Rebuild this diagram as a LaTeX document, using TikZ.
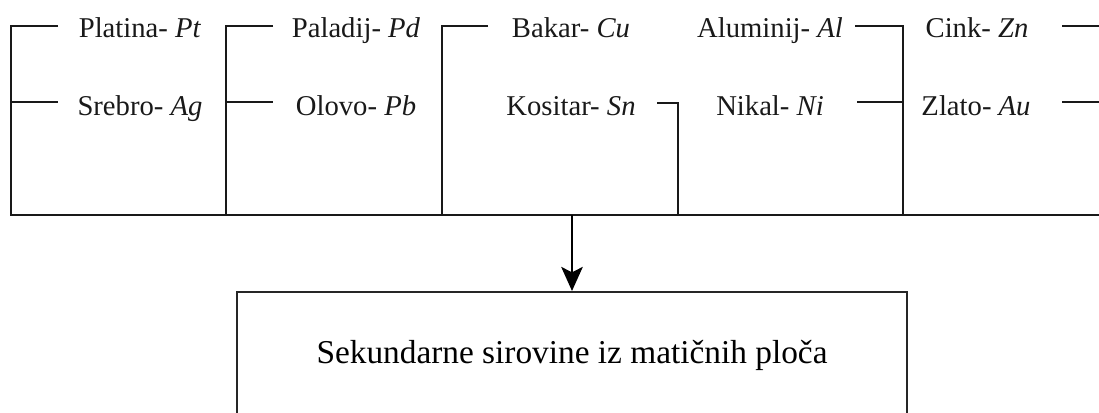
\documentclass[tikz,border=0pt]{standalone}
\usepackage{fontspec}
\newfontfamily\timesf{Liberation Serif}
\usetikzlibrary{arrows.meta}
\begin{document}
\begin{tikzpicture}[x=0.75pt,y=-0.75pt,
  lbl/.style={anchor=base,inner sep=0pt,font=\timesf\fontsize{21.5}{24}\selectfont,text=black!90},
  wire/.style={line width=1.6pt,draw=black!90},
  busline/.style={line width=2.2pt,draw=black!90},
  flow/.style={line width=2.2pt,draw=black,-{Stealth[length=18pt,width=16pt,inset=4pt]}},
  target/.style={draw=black!85,line width=1.6pt,anchor=north,minimum width=670*0.75pt,
    minimum height=137*0.75pt,text height=0.7em,text depth=0.25em,
    font=\timesf\fontsize{25}{28}\selectfont,inner sep=0pt}]
\useasboundingbox (0,0) rectangle (1099,412);
\clip (0,0) rectangle (1099,412);
% labels
\node[lbl] (pt) at (140,37) {Platina- \textit{Pt}};
\node[lbl] (ag) at (140,115) {Srebro- \textit{Ag}};
\node[lbl] (pd) at (356,37) {Paladij- \textit{Pd}};
\node[lbl] (pb) at (356,115) {Olovo- \textit{Pb}};
\node[lbl] (cu) at (571,37) {Bakar- \textit{Cu}};
\node[lbl] (sn) at (571,115) {Kositar- \textit{Sn}};
\node[lbl] (al) at (770,37) {Aluminij- \textit{Al}};
\node[lbl] (ni) at (770,115) {Nikal- \textit{Ni}};
\node[lbl] (zn) at (977,37) {Cink- \textit{Zn}};
\node[lbl] (au) at (976,115) {Zlato- \textit{Au}};
% coordinates
\coordinate (a1) at (58,26);   \coordinate (a2) at (11,26);   \coordinate (a3) at (11,215);
\coordinate (a4) at (11,102);  \coordinate (a5) at (58,102);
\coordinate (b1) at (273,26);  \coordinate (b2) at (226,26);  \coordinate (b3) at (226,215);
\coordinate (b4) at (226,102); \coordinate (b5) at (273,102);
\coordinate (c1) at (488,26);  \coordinate (c2) at (442,26);  \coordinate (c3) at (442,215);
\coordinate (k1) at (657,103); \coordinate (k2) at (678,103); \coordinate (k3) at (678,215);
\coordinate (d1) at (855,26);  \coordinate (d2) at (903,26);  \coordinate (d3) at (903,215);
\coordinate (d4) at (857,102); \coordinate (d5) at (903,102);
\coordinate (e1) at (1062,26); \coordinate (e2) at (1099,26);
\coordinate (e3) at (1062,102);\coordinate (e4) at (1099,102);
\coordinate (busL) at (10,215); \coordinate (busR) at (1099,215);
\coordinate (busM) at (572,215);
% wires
\draw[wire] (a1) -- (a2) -- (a3);
\draw[wire] (a4) -- (a5);
\draw[wire] (b1) -- (b2) -- (b3);
\draw[wire] (b4) -- (b5);
\draw[wire] (c1) -- (c2) -- (c3);
\draw[wire] (k1) -- (k2) -- (k3);
\draw[wire] (d1) -- (d2) -- (d3);
\draw[wire] (d4) -- (d5);
\draw[wire] (e1) -- (e2);
\draw[wire] (e3) -- (e4);
\draw[busline] (busL) -- (busR);
% target box
\node[target] (box) at (572,291) {Sekundarne sirovine iz matičnih ploča};
\draw[flow] (busM) -- (box.north);
\end{tikzpicture}
\end{document}
